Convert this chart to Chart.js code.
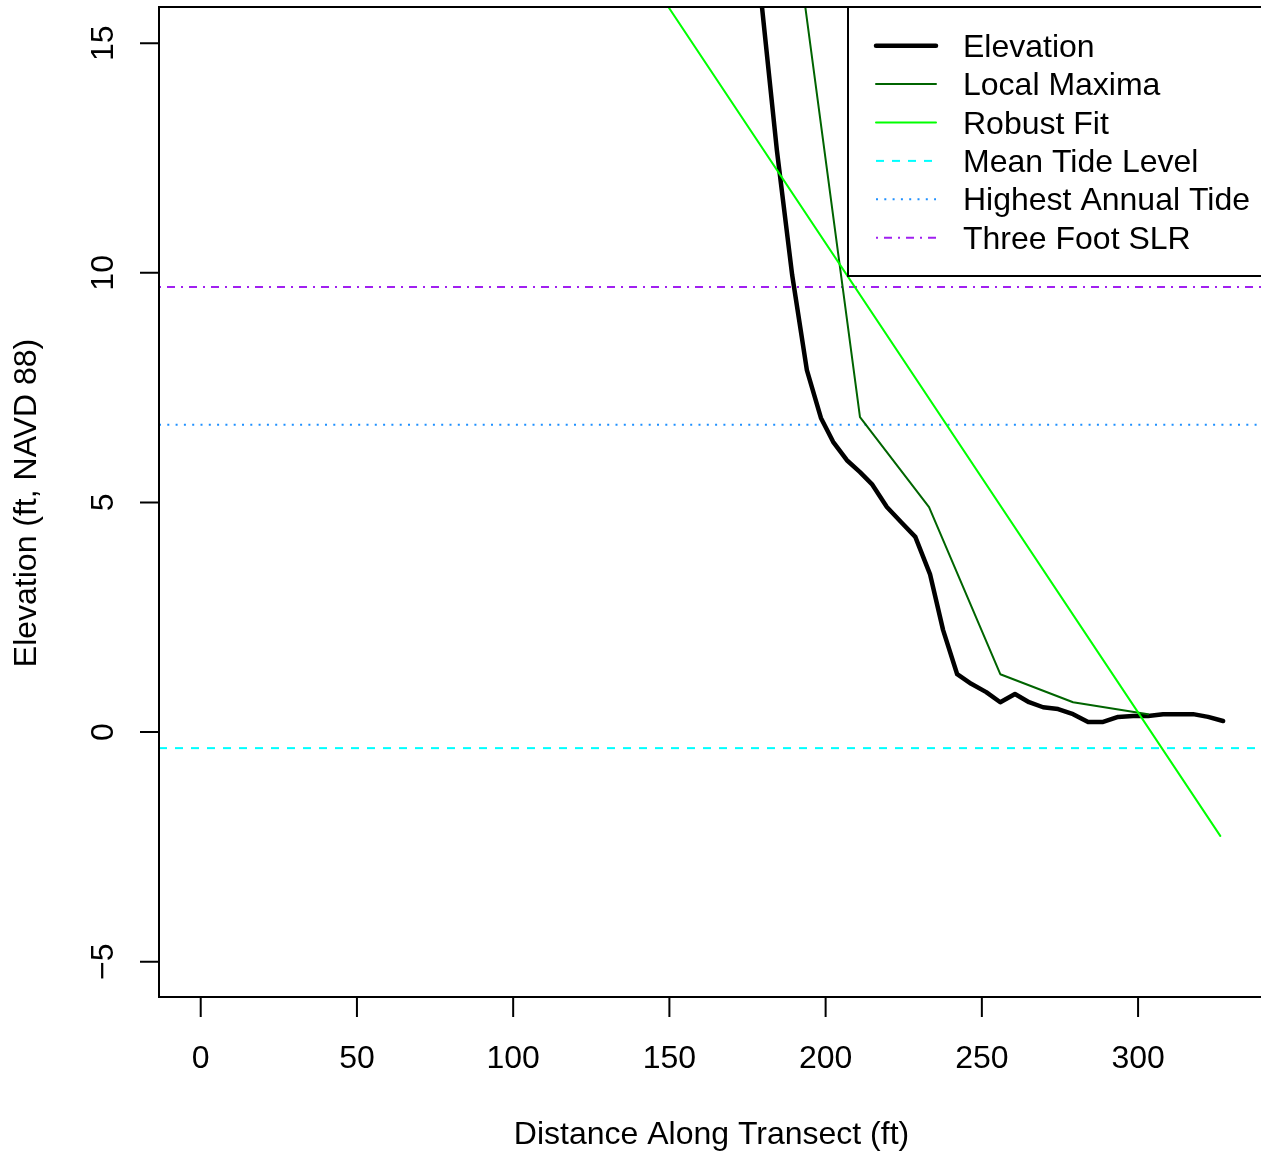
<!DOCTYPE html>
<html>
<head>
<meta charset="utf-8">
<script src="https://cdn.jsdelivr.net/npm/chart.js@4.4.1/dist/chart.umd.min.js"></script>
<style>
html,body{margin:0;padding:0;overflow:hidden;background:#fff;}
#wrap{width:1270px;height:1156px;position:relative;}
canvas{display:block;}
</style>
</head>
<body>
<div id="wrap"><canvas id="c" width="1270" height="1156"></canvas></div>
<script>
// ---- data ----
const xTicks = [0, 50, 100, 150, 200, 250, 300];
const xTickLabels = ['0', '50', '100', '150', '200', '250', '300'];
const yTicks = [-5, 0, 5, 10, 15];
const yTickLabels = ['\u22125', '0', '5', '10', '15'];

const elevX = [178.7, 184.4, 189.3, 194.0, 198.5, 202.4, 206.8, 211.0, 214.8, 219.6, 224.2, 228.7, 233.4, 237.6, 242.1, 246.6, 251.4, 255.9, 260.6, 265.1, 269.6, 274.4, 279.2, 284.0, 288.8, 293.6, 298.4, 303.2, 308.0, 312.8, 317.6, 322.4, 327.2];
const elevY = [16.4, 12.67, 9.95, 7.88, 6.84, 6.32, 5.92, 5.66, 5.40, 4.90, 4.57, 4.25, 3.44, 2.22, 1.26, 1.05, 0.87, 0.65, 0.83, 0.65, 0.54, 0.50, 0.39, 0.22, 0.22, 0.33, 0.35, 0.35, 0.39, 0.39, 0.39, 0.33, 0.24];

const maxX = [190.2, 211.0, 233.1, 255.9, 279.2, 303.2];
const maxY = [17.47, 6.86, 4.90, 1.26, 0.65, 0.39];

const fitX = [140.0, 326.3];
const fitY = [16.78, -2.26];

const meanTide = -0.35;
const highestTide = 6.69;
const slrLevel = 9.69;

const xRange = [-13.35, 340.3];
const yRange = [-5.77, 15.79];

const seriesNames = ['Elevation', 'Local Maxima', 'Robust Fit', 'Mean Tide Level', 'Highest Annual Tide', 'Three Foot SLR'];
const xTitle = 'Distance Along Transect (ft)';
const yTitle = 'Elevation (ft, NAVD 88)';

// ---- build ----
const pts = (xs, ys) => xs.map((v, i) => ({x: v, y: ys[i]}));
const hline = v => [{x: xRange[0], y: v}, {x: xRange[1], y: v}];
const FONT = '32px "Liberation Sans", Arial, sans-serif';

const datasets = [
  {label: seriesNames[0], data: pts(elevX, elevY), borderColor: '#000000', borderWidth: 4.5, order: 3, borderCapStyle: 'round', borderJoinStyle: 'round'},
  {label: seriesNames[1], data: pts(maxX, maxY), borderColor: '#006400', borderWidth: 2, order: 2, borderCapStyle: 'round', borderJoinStyle: 'round'},
  {label: seriesNames[2], data: pts(fitX, fitY), borderColor: '#00FF00', borderWidth: 2, order: 1, borderCapStyle: 'round'},
  {label: seriesNames[3], data: hline(meanTide), borderColor: '#00FFFF', borderWidth: 2, borderDash: [8, 8], order: 6, borderCapStyle: 'butt'},
  {label: seriesNames[4], data: hline(highestTide), borderColor: '#1E90FF', borderWidth: 2, borderDash: [2, 6.3], order: 5, borderCapStyle: 'butt'},
  {label: seriesNames[5], data: hline(slrLevel), borderColor: '#A020F0', borderWidth: 2, borderDash: [2, 6, 8, 6], order: 4, borderCapStyle: 'butt'}
];
datasets.forEach(d => { d.pointRadius = 0; d.tension = 0; d.fill = false; d.backgroundColor = d.borderColor; });

const rLegend = {
  id: 'rLegend',
  afterDatasetsDraw(chart) {
    const ctx = chart.ctx, a = chart.chartArea;
    ctx.save();
    ctx.fillStyle = '#fff';
    ctx.fillRect(848, a.top, a.right + 20 - 848, 276 - a.top);
    ctx.strokeStyle = '#000'; ctx.lineWidth = 2;
    ctx.strokeRect(848, a.top, a.right + 20 - 848, 276 - a.top);
    chart.data.datasets.forEach((d, i) => {
      const yy = 45.7 + i * 38.4;
      ctx.beginPath();
      ctx.strokeStyle = d.borderColor;
      ctx.lineWidth = d.borderWidth;
      ctx.setLineDash(d.borderDash || []);
      ctx.lineCap = d.borderDash ? 'butt' : 'round';
      ctx.moveTo(876, yy); ctx.lineTo(936, yy);
      ctx.stroke();
      ctx.setLineDash([]);
      ctx.fillStyle = '#000';
      ctx.font = FONT;
      ctx.textAlign = 'left'; ctx.textBaseline = 'alphabetic';
      ctx.fillText(d.label, 963, yy + 11);
    });
    ctx.restore();
  }
};

const rAxes = {
  id: 'rAxes',
  afterDraw(chart) {
    const ctx = chart.ctx, a = chart.chartArea, xs = chart.scales.x, ys = chart.scales.y;
    ctx.save();
    ctx.strokeStyle = '#000'; ctx.lineWidth = 2; ctx.lineCap = 'butt';
    ctx.strokeRect(a.left, a.top, a.right - a.left, a.bottom - a.top);
    ctx.beginPath();
    xTicks.forEach(v => { const p = xs.getPixelForValue(v); ctx.moveTo(p, a.bottom); ctx.lineTo(p, a.bottom + 20); });
    yTicks.forEach(v => { const p = ys.getPixelForValue(v); ctx.moveTo(a.left, p); ctx.lineTo(a.left - 19, p); });
    ctx.stroke();
    ctx.fillStyle = '#000'; ctx.font = FONT; ctx.textBaseline = 'alphabetic'; ctx.textAlign = 'center';
    xTicks.forEach((v, i) => ctx.fillText(xTickLabels[i], xs.getPixelForValue(v), 1067.5));
    yTicks.forEach((v, i) => {
      ctx.save(); ctx.translate(113, ys.getPixelForValue(v)); ctx.rotate(-Math.PI / 2);
      ctx.fillText(yTickLabels[i], 0, 0); ctx.restore();
    });
    ctx.fillText(xTitle, (a.left + a.right) / 2, 1144);
    ctx.save(); ctx.translate(36, (a.top + a.bottom) / 2 + 1); ctx.rotate(-Math.PI / 2);
    ctx.fillText(yTitle, 0, 0); ctx.restore();
    ctx.restore();
  }
};

new Chart(document.getElementById('c'), {
  type: 'line',
  data: {datasets},
  options: {
    responsive: false,
    devicePixelRatio: 1,
    animation: false,
    layout: {padding: {left: 159, top: 7, right: 6, bottom: 159}},
    plugins: {legend: {display: false}, tooltip: {enabled: false}},
    scales: {
      x: {type: 'linear', min: xRange[0], max: xRange[1], display: false},
      y: {type: 'linear', min: yRange[0], max: yRange[1], display: false}
    }
  },
  plugins: [rLegend, rAxes]
});
</script>
</body>
</html>
